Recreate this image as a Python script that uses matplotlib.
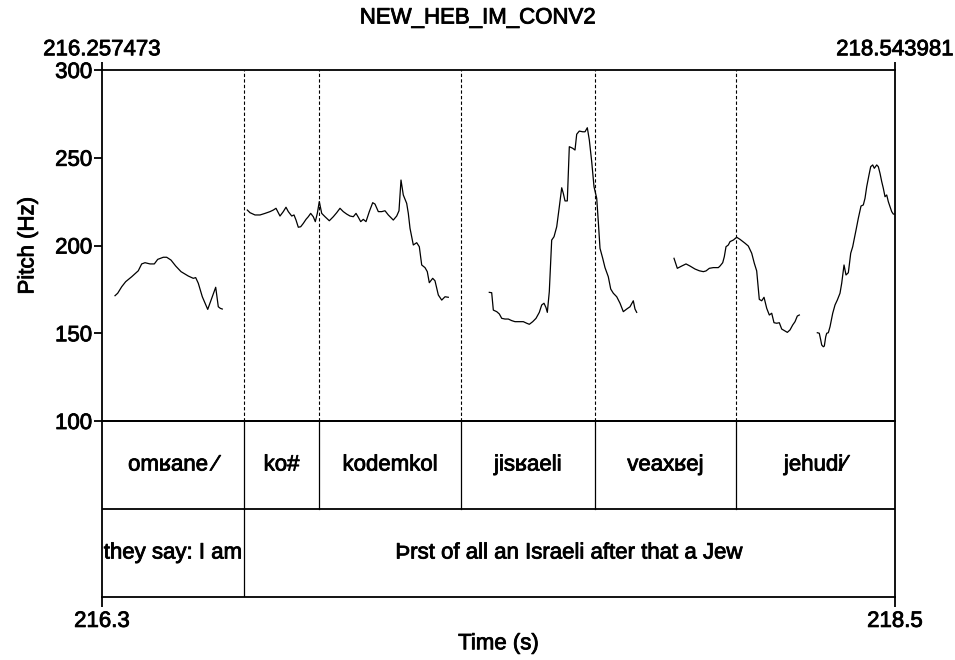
import matplotlib
matplotlib.use("Agg")
import matplotlib.pyplot as plt
import matplotlib.patheffects as pe

plt.rcParams['font.family'] = ['Liberation Sans', 'DejaVu Sans']

# ---------------- data ----------------
title = "NEW_HEB_IM_CONV2"
t_start = 216.257473
t_end = 218.543981
bottom_labels = ["216.3", "218.5"]
y_ticks = [100, 150, 200, 250, 300]

seg1_t = [216.2950, 216.3027, 216.3143, 216.3258, 216.3431, 216.3621, 216.3719, 216.3815,
          216.3959, 216.4083, 216.4181, 216.4342, 216.4440, 216.4564, 216.4700, 216.4853,
          216.5063, 216.5207, 216.5276, 216.5351, 216.5467, 216.5623, 216.5738, 216.5853,
          216.5928, 216.5986, 216.6043]
seg1_f = [171.4, 172.8, 176.5, 179.4, 182.2, 185.6, 189.5, 190.2,
          189.5, 189.5, 192.1, 193.3, 193.3, 191.7, 188.3, 185.1,
          182.6, 181.3, 181.7, 178.5, 170.8, 163.6, 169.9, 176.2,
          165.1, 164.2, 163.8]

seg2_t = [216.6764, 216.6842, 216.6986, 216.7131, 216.7275, 216.7419, 216.7514, 216.7592,
          216.7707, 216.7802, 216.7880, 216.7947, 216.8045, 216.8111, 216.8169, 216.8235,
          216.8304, 216.8379, 216.8457, 216.8523, 216.8592, 216.8667, 216.8725, 216.8783,
          216.8840, 216.8910, 216.9005, 216.9129, 216.9244, 216.9342, 216.9437, 216.9532,
          216.9630, 216.9726, 216.9821, 216.9899, 216.9965, 217.0034, 217.0109, 217.0187,
          217.0282, 217.0380, 217.0446, 217.0542, 217.0640, 217.0735, 217.0830, 217.0974,
          217.1072, 217.1138, 217.1196, 217.1262, 217.1360, 217.1407, 217.1456, 217.1551,
          217.1649, 217.1724, 217.1793, 217.1888, 217.1954, 217.2012, 217.2110, 217.2176,
          217.2272, 217.2370, 217.2465, 217.2560]
seg2_f = [220.2, 218.7, 217.4, 217.4, 218.3, 219.3, 220.2, 221.2,
          216.8, 219.3, 221.8, 219.3, 216.8, 217.4, 214.5, 210.4,
          210.7, 212.6, 214.9, 216.4, 218.3, 216.4, 213.6, 218.3,
          225.0, 218.3, 216.4, 214.1, 216.4, 218.7, 221.2, 219.3,
          217.9, 216.8, 216.4, 218.3, 216.1, 213.6, 214.9, 213.6,
          219.3, 224.4, 223.6, 219.3, 219.3, 219.8, 217.4, 214.5,
          216.8, 219.8, 237.3, 228.8, 224.0, 218.3, 209.8, 200.3,
          201.6, 199.3, 188.9, 187.4, 185.1, 178.8, 181.3, 179.9,
          171.8, 168.9, 170.8, 170.5]

seg3_t = [217.3742, 217.3811, 217.3858, 217.3956, 217.4031, 217.4100, 217.4195, 217.4290,
          217.4388, 217.4483, 217.4607, 217.4723, 217.4821, 217.4896, 217.4994, 217.5089,
          217.5184, 217.5253, 217.5319, 217.5377, 217.5415, 217.5472, 217.5541, 217.5608,
          217.5686, 217.5761, 217.5830, 217.5876, 217.5925, 217.5991, 217.6049, 217.6147,
          217.6213, 217.6262, 217.6337, 217.6435, 217.6502, 217.6568, 217.6626, 217.6695,
          217.6761, 217.6839, 217.6885, 217.6934, 217.7012, 217.7078, 217.7173, 217.7243,
          217.7318, 217.7416, 217.7511, 217.7606, 217.7704, 217.7799, 217.7894, 217.7943,
          217.7992]
seg3_f = [173.3, 173.1, 163.2, 162.3, 161.0, 158.5, 158.1, 158.1,
          157.2, 156.6, 156.6, 156.6, 155.7, 155.1, 156.6, 158.5,
          161.9, 166.1, 167.1, 164.6, 161.9, 173.7, 203.1, 205.0,
          210.7, 222.1, 232.9, 229.7, 225.4, 225.4, 256.3, 255.4,
          254.4, 263.4, 265.2, 264.8, 264.8, 267.1, 260.1, 247.7,
          233.5, 226.9, 213.6, 198.4, 192.7, 187.4, 182.2, 175.2,
          172.8, 170.8, 167.1, 162.3, 163.8, 165.1, 168.5, 163.8,
          161.9]

seg4_t = [217.9068, 217.9163, 217.9290, 217.9414, 217.9529, 217.9673, 217.9797, 217.9913,
          217.9990, 218.0086, 218.0201, 218.0345, 218.0394, 218.0472, 218.0518, 218.0567,
          218.0634, 218.0683, 218.0778, 218.0876, 218.0971, 218.1115, 218.1210, 218.1308,
          218.1383, 218.1452, 218.1527, 218.1597, 218.1663, 218.1741, 218.1816, 218.1885,
          218.1951, 218.2029, 218.2104, 218.2173, 218.2268, 218.2335, 218.2413, 218.2490,
          218.2557, 218.2623, 218.2681]
seg4_f = [192.7, 187.0, 188.3, 189.5, 188.3, 186.6, 185.6, 185.1,
          185.5, 187.0, 187.4, 187.4, 188.3, 190.2, 193.6, 199.3,
          200.3, 202.2, 203.1, 204.7, 203.5, 201.3, 199.7, 195.6,
          189.9, 185.5, 169.3, 168.5, 170.5, 164.2, 160.4, 161.4,
          156.0, 155.7, 156.0, 152.4, 151.3, 150.5, 151.9, 154.7,
          156.6, 159.8, 160.4]

seg5_t = [218.3200, 218.3257, 218.3298, 218.3327, 218.3373, 218.3402, 218.3442, 218.3471,
          218.3517, 218.3566, 218.3644, 218.3710, 218.3776, 218.3854, 218.3903, 218.3970,
          218.4027, 218.4094, 218.4122, 218.4163, 218.4220, 218.4258, 218.4316, 218.4382,
          218.4460, 218.4526, 218.4575, 218.4624, 218.4690, 218.4739, 218.4797, 218.4843,
          218.4913, 218.4959, 218.5008, 218.5057, 218.5103, 218.5152, 218.5201, 218.5247,
          218.5296, 218.5345, 218.5391, 218.5440]
seg5_f = [150.3, 150.0, 146.2, 143.3, 142.3, 142.7, 148.0, 150.0,
          150.3, 153.7, 161.4, 166.1, 168.9, 172.8, 178.5, 188.9,
          183.2, 184.5, 188.9, 195.6, 199.3, 203.1, 208.8, 215.5,
          222.5, 223.1, 226.9, 233.5, 240.2, 244.9, 245.9, 244.0,
          245.9, 244.9, 241.1, 236.4, 232.6, 227.8, 228.8, 225.0,
          222.1, 219.3, 217.9, 217.9]

segments_t = [seg1_t, seg2_t, seg3_t, seg4_t, seg5_t]
segments_f = [seg1_f, seg2_f, seg3_f, seg4_f, seg5_f]

tier1_bounds = [216.257473, 216.6669, 216.8832, 217.2926, 217.6790, 218.0856, 218.543981]
tier1_labels = ["omʁane ⁄", "ko#", "kodemkol", "jisʁaeli", "veaxʁej", "jehudi⁄"]
tier2_bounds = [216.257473, 216.6669, 218.543981]
tier2_labels = ["they say: I am", "Þrst of all an Israeli after that a Jew"]

# ---------------- figure ----------------
W, H = 955, 660
fig = plt.figure(figsize=(W / 100, H / 100), dpi=100)

L, R = 102, 895
top, mid, bot = 70, 421, 597
ax1 = fig.add_axes([L / W, 1 - mid / H, (R - L) / W, (mid - top) / H])
ax2 = fig.add_axes([L / W, 1 - bot / H, (R - L) / W, (bot - mid) / H])
ax2.patch.set_visible(False)

lw_frame = 1.3
fs = 16
heavy = [pe.withStroke(linewidth=0.6, foreground='black')]

# pitch
for ts, fsv in zip(segments_t, segments_f):
    ax1.plot(ts, fsv, color='black', lw=0.9)
ax1.set_xlim(t_start, t_end)
ax1.set_ylim(100, 300)
for b in tier1_bounds[1:-1]:
    ax1.axvline(b, color='black', lw=0.8, ls=(0, (3, 2)))
for s in ax1.spines.values():
    s.set_linewidth(lw_frame)
ax1.set_yticks(y_ticks)
ax1.set_yticklabels([str(v) for v in y_ticks], fontsize=fs)
ax1.set_xticks([t_start, t_end])
ax1.set_xticklabels(["216.257473", "218.543981"], fontsize=fs)
ax1.tick_params(axis='x', top=True, labeltop=True, bottom=False, labelbottom=False,
                direction='out', length=6, width=lw_frame, pad=1)
ax1.tick_params(axis='y', direction='out', length=6, width=lw_frame, pad=1)
ax1.set_ylabel("Pitch (Hz)", fontsize=fs, labelpad=12)

# tiers
ax2.set_xlim(t_start, t_end)
ax2.set_ylim(0, 2)
ax2.axhline(1, color='black', lw=lw_frame)
for s in ax2.spines.values():
    s.set_linewidth(lw_frame)
for b in tier1_bounds[1:-1]:
    ax2.plot([b, b], [1, 2], color='black', lw=0.9)
for b in tier2_bounds[1:-1]:
    ax2.plot([b, b], [0, 1], color='black', lw=0.9)
for i, lab in enumerate(tier1_labels):
    xm = (tier1_bounds[i] + tier1_bounds[i + 1]) / 2
    ax2.text(xm, 1.5, lab, ha='center', va='center', fontsize=fs, path_effects=heavy)
for i, lab in enumerate(tier2_labels):
    xm = (tier2_bounds[i] + tier2_bounds[i + 1]) / 2
    ax2.text(xm, 0.5, lab, ha='center', va='center', fontsize=fs, path_effects=heavy)
ax2.set_yticks([])
ax2.set_xticks([t_start, t_end])
ax2.set_xticklabels(bottom_labels, fontsize=fs)
ax2.tick_params(axis='x', direction='out', length=7, width=lw_frame, pad=3)
ax2.set_xlabel("Time (s)", fontsize=fs, labelpad=1)

for lab in (ax1.get_xticklabels() + ax1.get_yticklabels() + ax2.get_xticklabels()
            + [ax1.yaxis.label, ax2.xaxis.label]):
    lab.set_path_effects(heavy)

fig.text(478 / W, 1 - 18 / H, title, ha='center', va='center', fontsize=fs,
         path_effects=heavy)

fig.savefig("out.png", dpi=100)
